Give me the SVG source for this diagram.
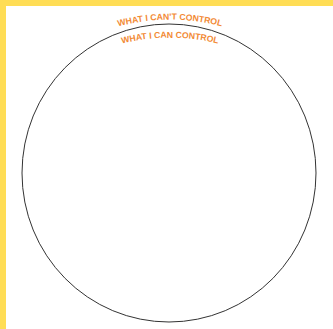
<svg xmlns="http://www.w3.org/2000/svg" width="333" height="329" viewBox="0 0 333 329">
<style>
.lbl{font-family:"Liberation Sans",Arial,sans-serif;font-weight:bold;font-size:8.7px;fill:#F28A35}
</style>
<defs>
<path id="outerArc" d="M 60 52.6 A 200 200 0 0 1 280 52.6"/>
<path id="innerArc" d="M 60 70.6 A 200 200 0 0 1 280 70.6"/>
</defs>
<rect x="0" y="0" width="333" height="329" fill="#ffffff"/>
<rect x="0" y="0" width="333" height="6" fill="#FFDD55"/>
<rect x="0" y="0" width="6" height="329" fill="#FFDD55"/>
<g id="circle">
<ellipse cx="169" cy="173" rx="147" ry="149" fill="none" stroke="#333333" stroke-width="1"/>
</g>
<g id="outer-label">
<text class="lbl" text-anchor="middle"><textPath href="#outerArc" startOffset="50%">WHAT I CAN'T CONTROL</textPath></text>
</g>
<g id="inner-label">
<text class="lbl" text-anchor="middle"><textPath href="#innerArc" startOffset="50%">WHAT I CAN CONTROL</textPath></text>
</g>
</svg>
